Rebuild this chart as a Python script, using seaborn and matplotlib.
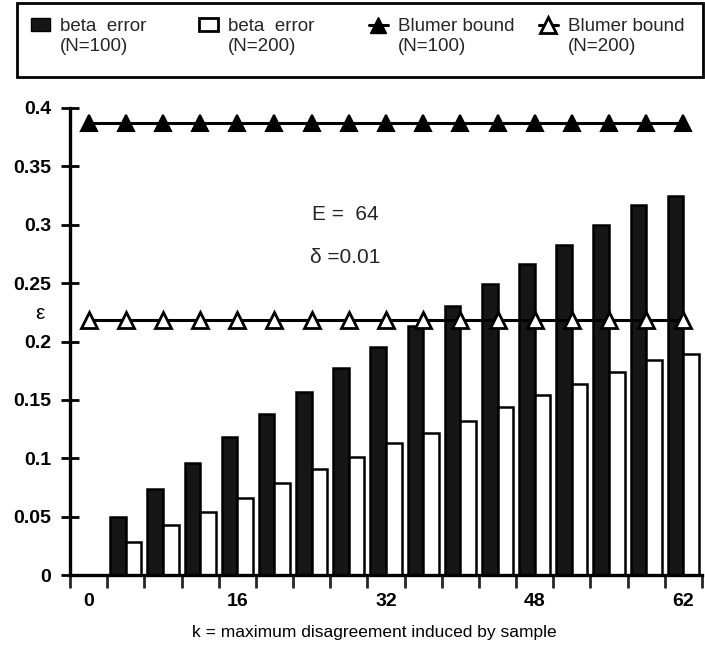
import numpy as np
import pandas as pd
import matplotlib
matplotlib.use("Agg")
import matplotlib.pyplot as plt
from matplotlib.patches import Patch, Rectangle
from matplotlib.lines import Line2D
import seaborn as sns

# k categories along the x axis
k_labels = ["0", "4", "8", "12", "16", "20", "24", "28", "32",
            "36", "40", "44", "48", "52", "56", "60", "62"]
x_tick_pos = [0, 4, 8, 12, 16]
x_tick_labels = ["0", "16", "32", "48", "62"]

beta_n100 = [0.0, 0.050, 0.074, 0.096, 0.118, 0.138, 0.157, 0.177, 0.195,
             0.213, 0.230, 0.249, 0.266, 0.283, 0.300, 0.317, 0.325]
beta_n200 = [0.0, 0.028, 0.043, 0.054, 0.066, 0.079, 0.091, 0.101, 0.113,
             0.122, 0.132, 0.144, 0.154, 0.164, 0.174, 0.184, 0.189]
blumer_n100 = [0.387, 0.387, 0.387, 0.387, 0.387, 0.387, 0.387, 0.387, 0.387,
               0.387, 0.387, 0.387, 0.387, 0.387, 0.387, 0.387, 0.387]
blumer_n200 = [0.218, 0.218, 0.218, 0.218, 0.218, 0.218, 0.218, 0.218, 0.218,
               0.218, 0.218, 0.218, 0.218, 0.218, 0.218, 0.218, 0.218]

y_ticks = [0, 0.05, 0.1, 0.15, 0.2, 0.25, 0.3, 0.35, 0.4]
y_tick_labels = ["0", "0.05", "0.1", "0.15", "0.2", "0.25", "0.3", "0.35", "0.4"]

legend_labels = ["beta  error\n(N=100)", "beta  error\n(N=200)",
                 "Blumer bound\n(N=100)", "Blumer bound\n(N=200)"]

DARK = "#161616"

sns.set_theme(style="white")
plt.rcParams['font.family'] = ['Liberation Sans', 'DejaVu Sans']

df = pd.DataFrame({
    "k": k_labels * 2,
    "eps": beta_n100 + beta_n200,
    "series": ["N=100"] * len(k_labels) + ["N=200"] * len(k_labels),
})

fig = plt.figure(figsize=(7.05, 6.52), dpi=100)
ax = fig.add_axes([70 / 705, 1 - 575 / 652, 632 / 705, 467 / 652])

sns.barplot(data=df, x="k", y="eps", hue="series", order=k_labels,
            hue_order=["N=100", "N=200"],
            palette={"N=100": DARK, "N=200": "white"},
            edgecolor="black", linewidth=1.8, width=0.84, legend=False, ax=ax)

# bound lines
sns.pointplot(x=k_labels, y=blumer_n100, order=k_labels, color="black",
              marker="^", markersize=12, markeredgewidth=1.5, linewidth=2.2, ax=ax)
sns.pointplot(x=k_labels, y=blumer_n200, order=k_labels, color="black",
              marker="^", markersize=12, markerfacecolor="white",
              markeredgewidth=2, linewidth=2.2, ax=ax)

ax.set_xlim(-0.5, len(k_labels) - 0.5)
ax.set_ylim(0, 0.4)

ax.set_yticks(y_ticks, labels=y_tick_labels, fontsize=14, fontweight="bold")
ax.set_xticks(x_tick_pos, labels=x_tick_labels, fontsize=14, fontweight="bold")
ax.set_xticks(np.arange(-0.5, len(k_labels), 1), minor=True)
ax.tick_params(axis="y", direction="inout", length=13, width=2, left=True, pad=7,
               colors="black")
ax.tick_params(axis="x", which="major", length=0, pad=13, colors="black")
ax.tick_params(axis="x", which="minor", direction="out", length=9, width=2, bottom=True)

for side in ["top", "right"]:
    ax.spines[side].set_visible(False)
for side in ["left", "bottom"]:
    ax.spines[side].set_linewidth(2.4)
    ax.spines[side].set_color("black")

ax.set_xlabel("k = maximum disagreement induced by sample", fontsize=12.5,
              color="black")
ax.xaxis.set_label_coords(0.481, -0.107)
ax.set_ylabel("ε", fontsize=15, rotation=0, color="black", va="center")
ax.yaxis.set_label_coords(-0.047, 0.56)

ax.text(6.0, 0.309, "E =  64", fontsize=15, va="center", ha="left")
ax.text(5.95, 0.272, "δ =0.01", fontsize=15, va="center", ha="left")

# legend: four entries in one framed box across the top
handles = [
    Patch(facecolor=DARK, edgecolor="black"),
    Patch(facecolor="white", edgecolor="black", linewidth=2),
    Line2D([], [], color="black", marker="^", markersize=12, linewidth=2.2),
    Line2D([], [], color="black", marker="^", markersize=12, markerfacecolor="white",
           markeredgewidth=2, linewidth=2.2),
]
entry_x = [31, 199, 369, 539]
for h, lab, x0 in zip(handles, legend_labels, entry_x):
    leg = fig.legend([h], [lab], loc="upper left",
                     bbox_to_anchor=(x0 / 705, 1 - 18 / 652),
                     borderaxespad=0, borderpad=0, frameon=False,
                     prop={"size": 13.5},
                     handlelength=1.0, handleheight=0.7, handletextpad=0.55)
    for col in leg._legend_handle_box.get_children():
        for item in col.get_children():
            item.align = "top"

fig.add_artist(Rectangle((17 / 705, 1 - 77 / 652), 686 / 705, 74 / 652,
                         transform=fig.transFigure, fill=False,
                         edgecolor="black", linewidth=2))

fig.savefig("out.png", dpi=100, facecolor="white")
